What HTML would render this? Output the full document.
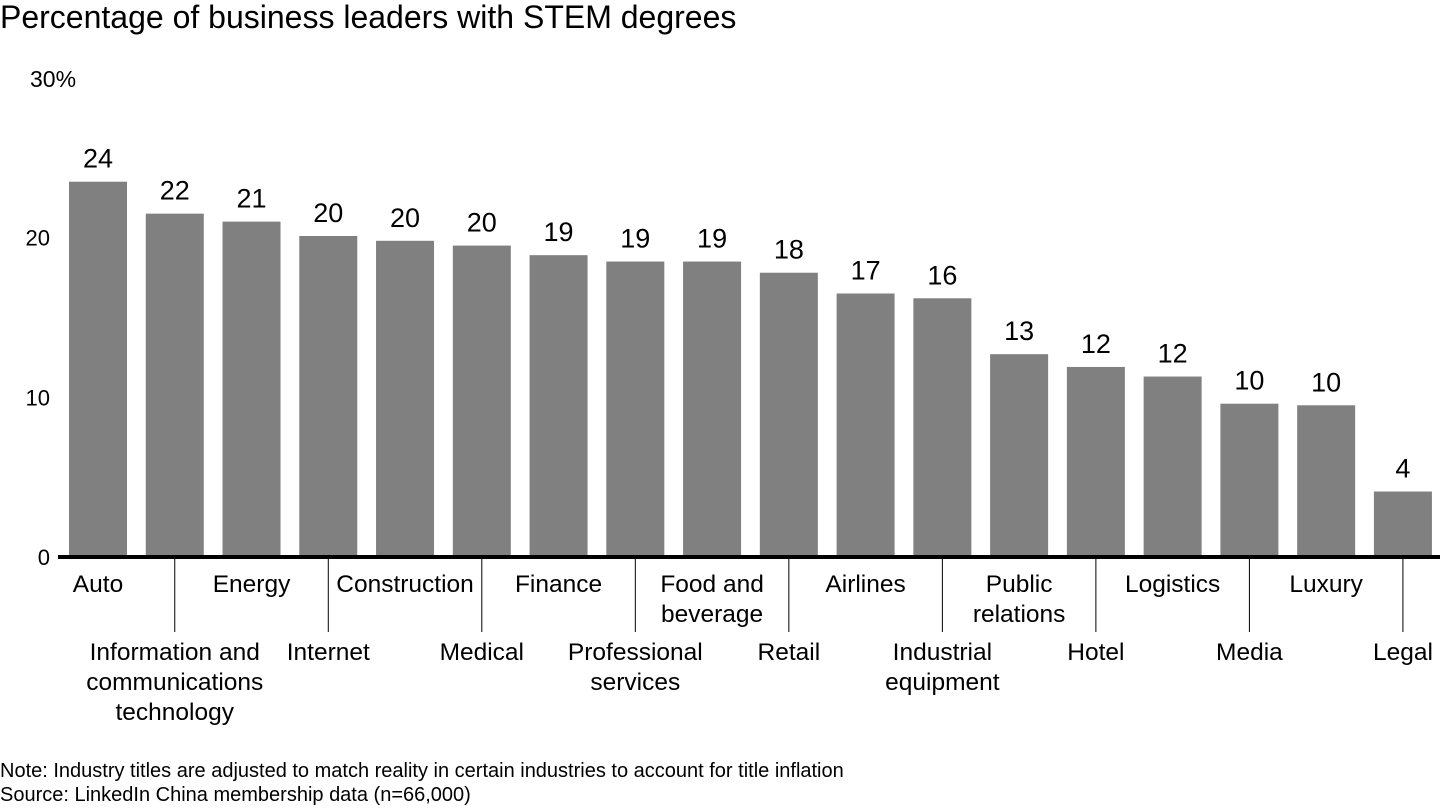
<!DOCTYPE html>
<html><head><meta charset="utf-8"><style>
body{margin:0;background:#fff;font-family:"Liberation Sans",Arial,sans-serif;}
svg{display:block}
</style></head><body>
<svg id="chart" width="1440" height="810" xmlns="http://www.w3.org/2000/svg">
<text x="0" y="28" font-size="32" fill="#000">Percentage of business leaders with STEM degrees</text>
<text x="30" y="87" font-size="23" fill="#000">30%</text>
<text x="0" y="777" font-size="20" fill="#000">Note: Industry titles are adjusted to match reality in certain industries to account for title inflation</text>
<text x="0" y="801" font-size="20" fill="#000">Source: LinkedIn China membership data (n=66,000)</text>
<g id="bars"></g><g id="labels"></g><g id="yticks"></g>
</svg>
<script>
const categories=[["Auto"],["Information and","communications","technology"],["Energy"],["Internet"],["Construction"],["Medical"],["Finance"],["Professional","services"],["Food and","beverage"],["Retail"],["Airlines"],["Industrial","equipment"],["Public","relations"],["Hotel"],["Logistics"],["Media"],["Luxury"],["Legal"]];
const values=[23.5,21.5,21.0,20.1,19.8,19.5,18.9,18.5,18.5,17.8,16.5,16.2,12.7,11.9,11.3,9.6,9.5,4.1];
const valueLabels=["24","22","21","20","20","20","19","19","19","18","17","16","13","12","12","10","10","4"];
const yTicks=[0,10,20];
const NS="http://www.w3.org/2000/svg";
const y0=557,ppu=15.97,x0=98,step=76.76,bw=58;
const yS=v=>y0-v*ppu, xS=i=>x0+i*step;
const bars=document.getElementById('bars'),labels=document.getElementById('labels'),yt=document.getElementById('yticks');
function mk(tag,attrs,parent){const e=document.createElementNS(NS,tag);for(const k in attrs)e.setAttribute(k,attrs[k]);parent.appendChild(e);return e;}
values.forEach((v,i)=>{
 const r=mk('rect',{x:xS(i)-bw/2,y:yS(v),width:bw,height:y0-yS(v),fill:'#808080'},bars);
 
 
 const t=mk('text',{x:xS(i),y:yS(v)-14,'text-anchor':'middle','font-size':27,fill:'#000'},labels);
 t.textContent=valueLabels[i];
 
 
 const odd=i%2===1;
 if(odd){const l=mk('line',{x1:xS(i),x2:xS(i),y1:y0,y2:632,stroke:'#000','stroke-width':1},labels);
  
  }
 const baseY=odd?660:592;
 categories[i].forEach((s,j)=>{
  const c=mk('text',{x:xS(i),y:baseY+j*30,'text-anchor':'middle','font-size':24.5,fill:'#000'},labels);
  c.textContent=s;
  
  
 });
});
yTicks.forEach(v=>{
 const t=mk('text',{x:50,y:yS(v)+8,'text-anchor':'end','font-size':22,fill:'#000'},yt);
 t.textContent=v;
 
 
});
const base=mk('line',{x1:58,x2:1440,y1:y0,y2:y0,stroke:'#000','stroke-width':4},yt);


</script>
</body></html>
